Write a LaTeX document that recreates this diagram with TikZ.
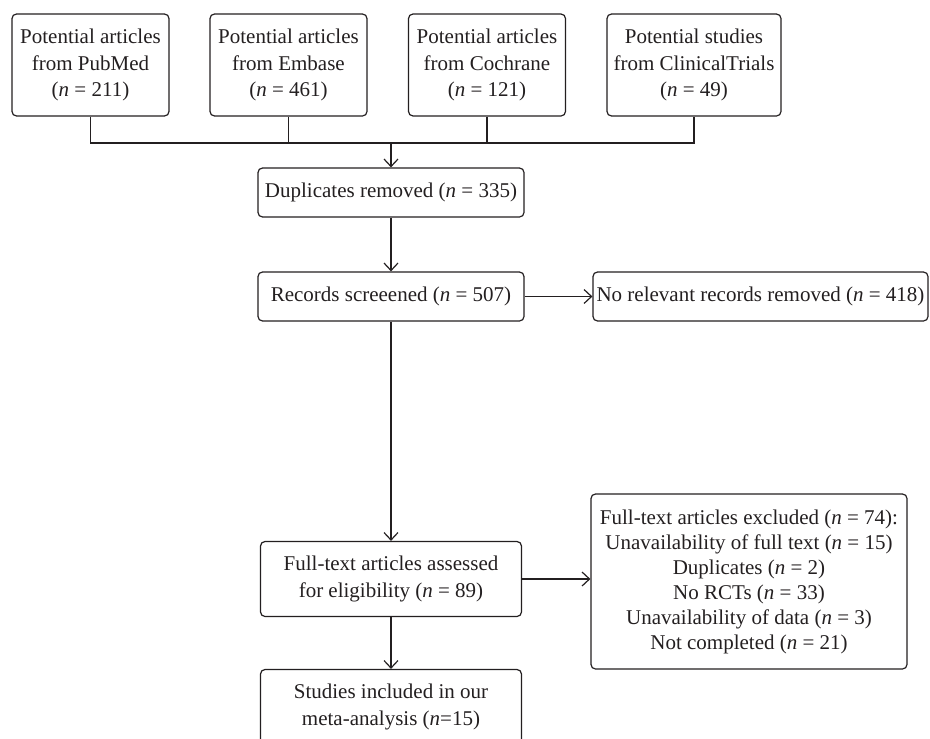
\documentclass[tikz,border=0pt]{standalone}
\usepackage{fontspec}
\setmainfont{Liberation Serif}
\usetikzlibrary{arrows.meta}
\definecolor{ink}{HTML}{231F20}
\newcommand{\nn}{\textit{n}}
\begin{document}
\begin{tikzpicture}[x=1pt,y=-1pt,
  box/.style={draw=ink, line width=1.2pt, rounded corners=4.5pt, align=center, inner sep=0pt, text=ink,
    font=\fontsize{21}{26.5}\selectfont},
  ln/.style={draw=ink, line width=1.2pt},
  arr/.style={ln, -{Straight Barb[length=7.5pt,width=14pt,line width=1.2pt]}}]
\useasboundingbox (0,0) rectangle (930,739);
\node[box, minimum width=157pt, minimum height=102pt] (pub) at (90.5,65) {Potential articles\\from PubMed\\(\nn{} = 211)};
\node[box, minimum width=157pt, minimum height=102pt] (emb) at (288.5,65) {Potential articles\\from Embase\\(\nn{} = 461)};
\node[box, minimum width=157pt, minimum height=102pt] (coc) at (487,65) {Potential articles\\from Cochrane\\(\nn{} = 121)};
\node[box, minimum width=174pt, minimum height=102pt] (cli) at (694,65) {Potential studies\\from ClinicalTrials\\(\nn{} = 49)};
\coordinate (hub) at (391,143);
\node[box, minimum width=266pt, minimum height=49pt] (dup) at (391,192.5) {Duplicates removed (\nn{} = 335)};
\node[box, minimum width=266pt, minimum height=49pt] (rec) at (391,296.5) {Records screeened (\nn{} = 507)};
\node[box, minimum width=335pt, minimum height=49pt] (norel) at (760.5,296.5) {No relevant records removed (\nn{} = 418)};
\node[box, minimum width=261pt, minimum height=75pt] (full) at (391,579) {Full-text articles assessed\\for eligibility (\nn{} = 89)};
\node[box, minimum width=316pt, minimum height=175pt, font=\fontsize{21}{25}\selectfont] (excl) at (749,581.5) {Full-text articles excluded (\nn{} = 74):\\Unavailability of full text (\nn{} = 15)\\Duplicates (\nn{} = 2)\\No RCTs (\nn{} = 33)\\Unavailability of data (\nn{} = 3)\\Not completed (\nn{} = 21)};
\node[box, minimum width=261pt, minimum height=75pt] (stud) at (391,707) {Studies included in our\\meta-analysis (\nn{}=15)};
\draw[ln] (pub.south) -- (pub.south |- hub) -- (cli.south |- hub) -- (cli.south);
\draw[ln] (emb.south) -- (emb.south |- hub);
\draw[ln] (coc.south) -- (coc.south |- hub);
\draw[arr] (hub) -- (dup.north);
\draw[arr] (dup.south) -- (rec.north);
\draw[arr] (rec.east) -- (norel.west);
\draw[arr] (rec.south) -- (full.north);
\draw[arr] (full.east) -- (excl.west |- full.east);
\draw[arr] (full.south) -- (stud.north);
\end{tikzpicture}
\end{document}
